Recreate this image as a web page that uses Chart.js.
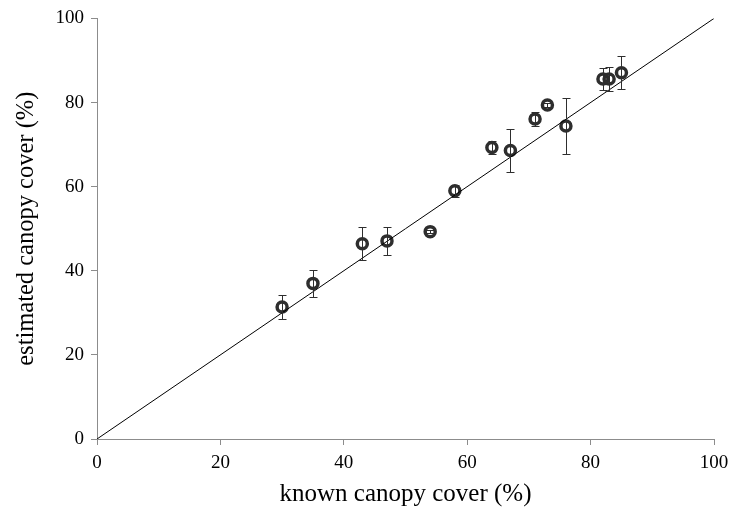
<!DOCTYPE html>
<html>
<head>
<meta charset="utf-8">
<script src="https://cdn.jsdelivr.net/npm/chart.js@4.4.1/dist/chart.umd.min.js"></script>
<style>
  html, body { margin: 0; padding: 0; background: #fff; }
  #wrap { width: 732px; height: 510px; }
</style>
</head>
<body>
<div id="wrap"><canvas id="c" width="732" height="510"></canvas></div>
<script>
// known vs estimated canopy cover (%), with error bar half-widths
const knownCover     = [30, 35, 43, 47, 54, 58, 64, 67, 71, 73, 76, 82, 83, 85];
const estimatedCover = [31.4, 37.0, 46.4, 47.1, 49.3, 59.0, 69.3, 68.6, 76.1, 79.4, 74.4, 85.6, 85.6, 87.1];
const errorHalf      = [2.9, 3.2, 3.9, 3.3, 0.4, 1.5, 1.6, 5.2, 1.6, 0.4, 6.7, 2.6, 2.8, 4.0];
const identityLine   = [0, 100];

const AXIS_GRAY = '#8c8c8c';
const MARK = '#2e2e2e';
const FONT = "'Liberation Serif', 'Times New Roman', serif";

const errorBars = {
  id: 'errorBars',
  afterDatasetsDraw(chart) {
    const { ctx, scales: { x, y } } = chart;
    ctx.save();
    ctx.strokeStyle = MARK;
    ctx.lineWidth = 1;
    knownCover.forEach((k, i) => {
      const px = Math.round(x.getPixelForValue(k)) + 0.5;
      const top = Math.round(y.getPixelForValue(estimatedCover[i] + errorHalf[i])) + 0.5;
      const bot = Math.round(y.getPixelForValue(estimatedCover[i] - errorHalf[i])) + 0.5;
      ctx.beginPath();
      ctx.moveTo(px, top); ctx.lineTo(px, bot);
      ctx.moveTo(px - 4, top); ctx.lineTo(px + 4, top);
      ctx.moveTo(px - 4, bot); ctx.lineTo(px + 4, bot);
      ctx.stroke();
    });
    ctx.restore();
  }
};

new Chart(document.getElementById('c'), {
  type: 'scatter',
  data: {
    datasets: [
      {
        label: '1:1',
        type: 'line',
        data: identityLine.map(v => ({ x: v, y: v })),
        borderColor: '#000',
        borderWidth: 1,
        pointRadius: 0,
        fill: false,
      },
      {
        label: 'canopy cover',
        data: knownCover.map((k, i) => ({ x: k, y: estimatedCover[i] })),
        pointRadius: 5,
        pointBorderWidth: 3.5,
        pointBorderColor: MARK,
        pointBackgroundColor: 'rgba(255,255,255,0)',
      },
    ],
  },
  options: {
    responsive: false,
    animation: false,
    layout: { padding: { left: 8, right: 18, top: 17, bottom: 0 } },
    plugins: { legend: { display: false }, tooltip: { enabled: false } },
    scales: {
      x: {
        type: 'linear', min: 0, max: 100,
        ticks: { stepSize: 20, color: '#000', font: { family: FONT, size: 19 }, padding: 7 },
        grid: { drawOnChartArea: false, drawTicks: true, tickLength: 6, color: AXIS_GRAY },
        border: { display: true, color: AXIS_GRAY },
        title: { display: true, text: 'known canopy cover (%)', color: '#000', font: { family: FONT, size: 25 }, padding: { top: 4, bottom: 1 } },
        afterFit(scale) {
          scale.height = 71;
          scale.paddingRight = 0; // let the last tick label overhang the right padding
        },
      },
      y: {
        type: 'linear', min: 0, max: 100,
        ticks: { stepSize: 20, color: '#000', font: { family: FONT, size: 19 }, padding: 7 },
        grid: { drawOnChartArea: false, drawTicks: true, tickLength: 6, color: AXIS_GRAY },
        border: { display: true, color: AXIS_GRAY },
        title: { display: true, text: 'estimated canopy cover (%)', color: '#000', font: { family: FONT, size: 24.5 }, padding: { top: 4, bottom: 10 } },
        afterFit(scale) { scale.width = 89; },
      },
    },
  },
  plugins: [errorBars],
});
</script>
</body>
</html>
